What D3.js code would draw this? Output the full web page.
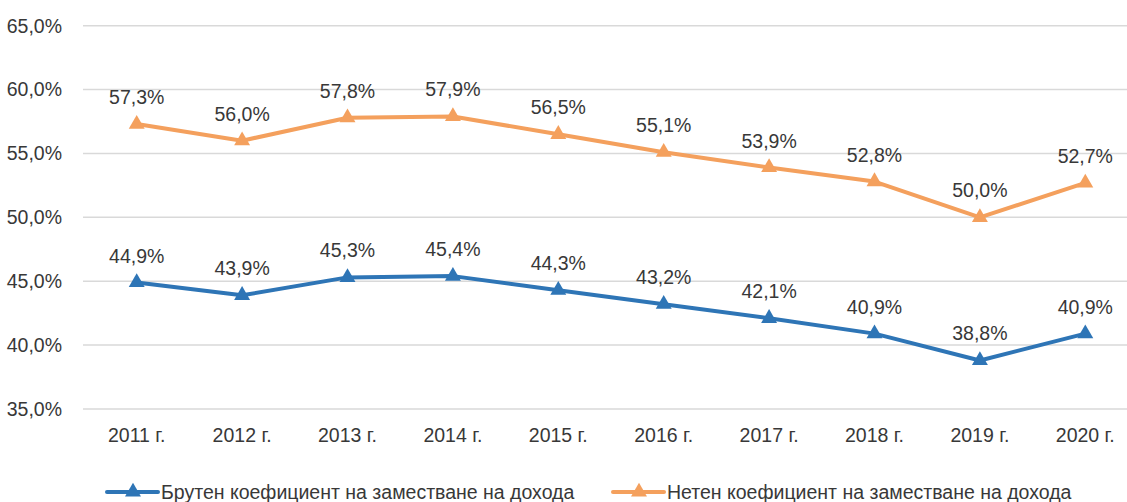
<!DOCTYPE html>
<html>
<head>
  <meta charset="utf-8">
  <title>Коефициент на заместване на дохода</title>
  <script src="https://d3js.org/d3.v7.min.js"></script>
  <style>
    html, body { margin: 0; padding: 0; background: #fff; }
    svg { display: block; font-family: "Liberation Sans", Arial, sans-serif; }
    text { fill: #383838; font-size: 19.5px; }
  </style>
</head>
<body>
<div id="chart"></div>
<script>
const years = ["2011 г.", "2012 г.", "2013 г.", "2014 г.", "2015 г.", "2016 г.", "2017 г.", "2018 г.", "2019 г.", "2020 г."];
const gross = [44.9, 43.9, 45.3, 45.4, 44.3, 43.2, 42.1, 40.9, 38.8, 40.9];
const net = [57.3, 56.0, 57.8, 57.9, 56.5, 55.1, 53.9, 52.8, 50.0, 52.7];
const yTicks = [35, 40, 45, 50, 55, 60, 65];
const seriesNames = ["Брутен коефициент на заместване на дохода", "Нетен коефициент на заместване на дохода"];

const width = 1127, height = 502;
const colors = ["#2E75B6", "#F4A05D"];

const fmt = v => d3.format(".1f")(v).replace(".", ",") + "%";

const svg = d3.select("#chart").append("svg")
  .attr("width", width)
  .attr("height", height);

const x = d3.scaleBand().domain(years).range([84, 1138]);
const y = d3.scaleLinear().domain([35, 65]).range([409, 25.7]);

// gridlines
svg.append("g")
  .selectAll("line")
  .data(yTicks)
  .join("line")
    .attr("x1", 83).attr("x2", width)
    .attr("y1", d => y(d)).attr("y2", d => y(d))
    .attr("stroke", "#d9d9d9")
    .attr("stroke-width", 1.5);

// y labels
svg.append("g")
  .selectAll("text")
  .data(yTicks)
  .join("text")
    .attr("x", 62)
    .attr("y", d => y(d))
    .attr("dy", "0.35em")
    .attr("text-anchor", "end")
    .text(fmt);

// x labels
svg.append("g")
  .selectAll("text")
  .data(years)
  .join("text")
    .attr("x", d => x(d) + x.bandwidth() / 2)
    .attr("y", 442)
    .attr("text-anchor", "middle")
    .text(d => d);

const cx = i => x(years[i]) + x.bandwidth() / 2;
const tri = d3.symbol().type(d3.symbolTriangle).size(110);

[gross, net].forEach((vals, s) => {
  const g = svg.append("g");
  g.append("path")
    .datum(vals)
    .attr("fill", "none")
    .attr("stroke", colors[s])
    .attr("stroke-width", 4)
    .attr("stroke-linejoin", "round")
    .attr("d", d3.line().x((d, i) => cx(i)).y(d => y(d)));
  g.selectAll("path.m")
    .data(vals)
    .join("path")
      .attr("class", "m")
      .attr("transform", (d, i) => `translate(${cx(i)},${y(d)})`)
      .attr("d", tri)
      .attr("fill", colors[s]);
  g.selectAll("text")
    .data(vals)
    .join("text")
      .attr("x", (d, i) => cx(i))
      .attr("y", d => y(d) - 20)
      .attr("text-anchor", "middle")
      .text(fmt);
});

// legend
const legendX = [107, 613];
seriesNames.forEach((name, s) => {
  const lg = svg.append("g").attr("transform", `translate(${legendX[s]},492)`);
  lg.append("line")
    .attr("x1", 0).attr("x2", 51)
    .attr("stroke", colors[s])
    .attr("stroke-width", 4)
    .attr("stroke-linecap", "round");
  lg.append("path")
    .attr("transform", "translate(26,0)")
    .attr("d", tri)
    .attr("fill", colors[s]);
  lg.append("text")
    .attr("x", 54)
    .attr("dy", "0.35em")
    .text(name);
});
</script>
</body>
</html>
